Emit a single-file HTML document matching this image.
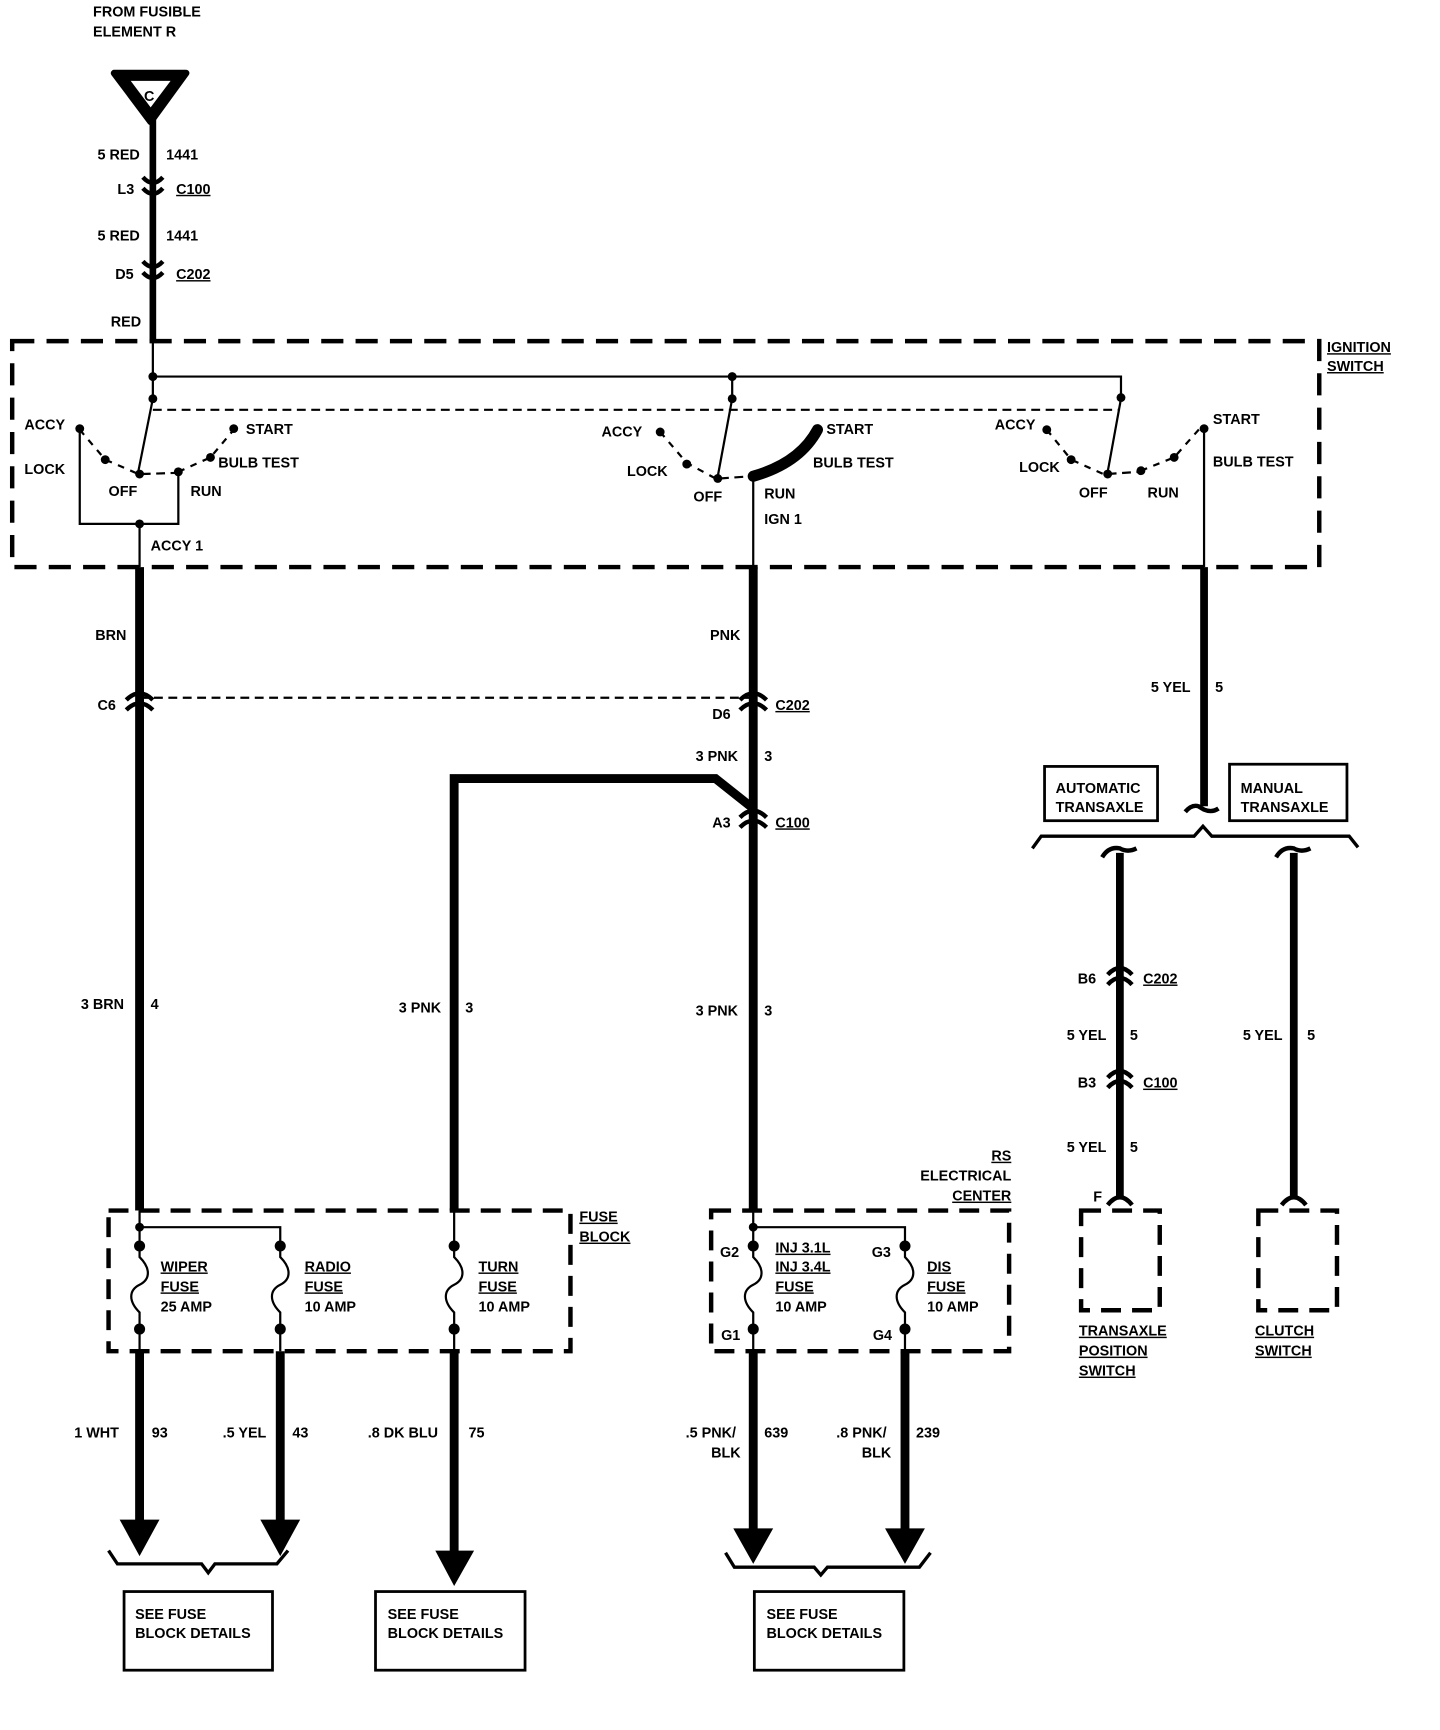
<!DOCTYPE html>
<html><head><meta charset="utf-8"><style>
html,body{margin:0;padding:0;background:#fff;}
svg{display:block;}
text{font-family:"Liberation Sans",sans-serif;font-weight:bold;font-size:13px;fill:#000;}
</style></head><body>
<svg width="1440" height="1730" viewBox="0 0 1300 1562" preserveAspectRatio="none" xmlns="http://www.w3.org/2000/svg">
<g fill="none" stroke="#000" stroke-linecap="butt">
<path d="M103,66 L168,66 L136,110 Z" stroke-width="6" stroke-linejoin="round" fill="#000"/>
<path d="M118,73 L154,73 L136,97 Z" fill="#fff" stroke="none"/>
<line x1="138" y1="106" x2="138" y2="308" stroke-width="6"/>
<path d="M129,160 Q138,170 147,160 M129,170 Q138,180 147,170" stroke-width="4"/>
<path d="M129,236 Q138,246 147,236 M129,246 Q138,256 147,246" stroke-width="4"/>
<rect x="11" y="308" width="1180" height="204" stroke-width="4" stroke-dasharray="20,11"/>
<line x1="138" y1="308" x2="138" y2="360" stroke-width="2"/>
<polyline points="138,340 1012,340 1012,359" stroke-width="2"/>
<line x1="661" y1="340" x2="661" y2="360" stroke-width="2"/>
<line x1="138" y1="370" x2="1010" y2="370" stroke-width="2" stroke-dasharray="8,5"/>
<line x1="138" y1="360" x2="125" y2="425" stroke-width="2"/>
<path d="M72,388 L95,415 L125,428 M161,426 L190,413 L211,388" stroke-width="2" stroke-dasharray="6,6"/>
<line x1="128" y1="428" x2="158" y2="427" stroke-width="2" stroke-dasharray="8,5"/>
<polyline points="72,386 72,473 161,473 161,426" stroke-width="2"/>
<line x1="126" y1="473" x2="126" y2="512" stroke-width="2"/>
<line x1="661" y1="360" x2="648" y2="430" stroke-width="2"/>
<path d="M596,390 L620,418 L646,432" stroke-width="2" stroke-dasharray="6,6"/>
<line x1="650" y1="432" x2="678" y2="430" stroke-width="2" stroke-dasharray="8,5"/>
<path d="M680,430 Q722,418 738,388" stroke-width="10" stroke-linecap="round"/>
<line x1="680" y1="430" x2="680" y2="512" stroke-width="2"/>
<line x1="1012" y1="360" x2="1000" y2="426" stroke-width="2"/>
<path d="M945,388 L967,415 L996,428 M1030,425 L1060,413 L1083,387" stroke-width="2" stroke-dasharray="6,6"/>
<line x1="1000" y1="428" x2="1028" y2="426" stroke-width="2" stroke-dasharray="8,5"/>
<line x1="1087" y1="387" x2="1087" y2="512" stroke-width="2"/>
<line x1="126" y1="512" x2="126" y2="1093" stroke-width="8"/>
<line x1="680" y1="512" x2="680" y2="1093" stroke-width="8"/>
<polyline points="680,730 646,703 410,703 410,1093" stroke-width="8" stroke-linejoin="miter"/>
<line x1="1087" y1="512" x2="1087" y2="728" stroke-width="7"/>
<line x1="126" y1="630" x2="680" y2="630" stroke-width="2" stroke-dasharray="8,5"/>
<path d="M114,632 Q126,620 138,632 M114,641 Q126,629 138,641" stroke-width="4"/>
<path d="M668,632 Q680,620 692,632 M668,641 Q680,629 692,641" stroke-width="4"/>
<path d="M668,738 Q680,726 692,738 M668,747 Q680,735 692,747" stroke-width="4"/>
<path d="M1070,733 Q1076,726 1082,728 L1087,731 Q1094,734 1100,730" stroke-width="4"/>
<rect x="943" y="692" width="102" height="49" stroke-width="2.5"/>
<rect x="1110" y="690" width="106" height="51" stroke-width="2.5"/>
<polyline points="932,766 940,755 1078,755 1086,746 1094,755 1218,755 1226,765" stroke-width="3"/>
<line x1="1011" y1="770" x2="1011" y2="1080" stroke-width="7"/>
<line x1="1168" y1="770" x2="1168" y2="1080" stroke-width="7"/>
<path d="M995,774 Q1001,764 1011,766 Q1018,770 1026,766" stroke-width="4"/>
<path d="M1152,774 Q1158,764 1168,766 Q1175,770 1183,766" stroke-width="4"/>
<path d="M1000,880 Q1011,868 1022,880 M1000,889 Q1011,877 1022,889" stroke-width="4"/>
<path d="M1000,973 Q1011,961 1022,973 M1000,982 Q1011,970 1022,982" stroke-width="4"/>
<path d="M1000,1088 Q1011,1074 1022,1088" stroke-width="4"/>
<path d="M1157,1088 Q1168,1074 1179,1088" stroke-width="4"/>
<rect x="976" y="1093" width="71" height="90" stroke-width="4" stroke-dasharray="18,10"/>
<rect x="1136" y="1093" width="71" height="90" stroke-width="4" stroke-dasharray="18,10"/>
<rect x="98" y="1093" width="417" height="127" stroke-width="4" stroke-dasharray="18,10"/>
<polyline points="126,1108 253,1108 253,1125" stroke-width="2"/>
<line x1="410" y1="1093" x2="410" y2="1125" stroke-width="2"/>
<line x1="126" y1="1093" x2="126" y2="1125" stroke-width="2"/>
<g stroke-width="2">
<path d="M126,1125 L126,1135 C136,1145 136,1155 126,1160 C116,1165 116,1175 126,1185 L126,1220"/>
<path d="M253,1125 L253,1135 C263,1145 263,1155 253,1160 C243,1165 243,1175 253,1185 L253,1220"/>
<path d="M410,1125 L410,1135 C420,1145 420,1155 410,1160 C400,1165 400,1175 410,1185 L410,1220"/>
<path d="M680,1093 L680,1135 C690,1145 690,1155 680,1160 C670,1165 670,1175 680,1185 L680,1220"/>
<path d="M817,1125 L817,1135 C827,1145 827,1155 817,1160 C807,1165 807,1175 817,1185 L817,1220"/>
</g>
<rect x="642" y="1093" width="269" height="127" stroke-width="4" stroke-dasharray="18,10"/>
<polyline points="680,1108 817,1108 817,1125" stroke-width="2"/>
<line x1="126" y1="1220" x2="126" y2="1380" stroke-width="8"/>
<line x1="253" y1="1220" x2="253" y2="1380" stroke-width="8"/>
<line x1="410" y1="1220" x2="410" y2="1405" stroke-width="8"/>
<line x1="680" y1="1220" x2="680" y2="1382" stroke-width="8"/>
<line x1="817" y1="1220" x2="817" y2="1382" stroke-width="8"/>
<polyline points="98,1398 106,1410 182,1410 188,1418 194,1410 250,1410 260,1398" stroke-width="3" transform="translate(0,2)"/>
<polyline points="655,1402 663,1415 735,1415 741,1422 747,1415 830,1415 840,1402" stroke-width="3"/>
<rect x="112" y="1437" width="134" height="71" stroke-width="2.5"/>
<rect x="339" y="1437" width="135" height="71" stroke-width="2.5"/>
<rect x="681" y="1437" width="135" height="71" stroke-width="2.5"/>
</g>
<g fill="#000">
<polygon points="108,1372 144,1372 126,1405"/>
<polygon points="235,1372 271,1372 253,1405"/>
<polygon points="393,1400 428,1400 410,1432"/>
<polygon points="662,1380 698,1380 680,1412"/>
<polygon points="799,1380 835,1380 817,1412"/>
<circle cx="138" cy="340" r="4"/><circle cx="138" cy="360" r="4"/>
<circle cx="661" cy="340" r="4"/><circle cx="661" cy="360" r="4"/>
<circle cx="1012" cy="359" r="4"/>
<circle cx="72" cy="387" r="4"/><circle cx="95" cy="415" r="4"/><circle cx="126" cy="428" r="4"/><circle cx="161" cy="426" r="4"/><circle cx="190" cy="413" r="4"/><circle cx="211" cy="387" r="4"/><circle cx="126" cy="473" r="4"/>
<circle cx="596" cy="390" r="4"/><circle cx="620" cy="419" r="4"/><circle cx="648" cy="432" r="4"/>
<circle cx="945" cy="388" r="4"/><circle cx="967" cy="415" r="4"/><circle cx="1000" cy="428" r="4"/><circle cx="1030" cy="425" r="4"/><circle cx="1060" cy="413" r="4"/><circle cx="1087" cy="387" r="4"/>
<circle cx="126" cy="1108" r="4"/><circle cx="126" cy="1125" r="5"/><circle cx="126" cy="1200" r="5"/>
<circle cx="253" cy="1125" r="5"/><circle cx="253" cy="1200" r="5"/>
<circle cx="410" cy="1125" r="5"/><circle cx="410" cy="1200" r="5"/>
<circle cx="680" cy="1108" r="4"/><circle cx="680" cy="1125" r="5"/><circle cx="680" cy="1200" r="5"/>
<circle cx="817" cy="1125" r="5"/><circle cx="817" cy="1200" r="5"/>
</g>
<text x="84" y="15">FROM FUSIBLE</text>
<text x="84" y="33">ELEMENT R</text>
<text x="130" y="91" font-size="16">C</text>
<text x="88" y="144">5 RED</text><text x="150" y="144">1441</text>
<text x="106" y="175">L3</text><text x="159" y="175" text-decoration="underline">C100</text>
<text x="88" y="217">5 RED</text><text x="150" y="217">1441</text>
<text x="104" y="252">D5</text><text x="159" y="252" text-decoration="underline">C202</text>
<text x="100" y="295">RED</text>
<text x="1198" y="318" text-decoration="underline">IGNITION</text>
<text x="1198" y="335" text-decoration="underline">SWITCH</text>
<text x="22" y="388">ACCY</text><text x="22" y="428">LOCK</text><text x="98" y="448">OFF</text><text x="172" y="448">RUN</text>
<text x="222" y="392">START</text><text x="197" y="422">BULB TEST</text><text x="136" y="497">ACCY 1</text>
<text x="543" y="394">ACCY</text><text x="566" y="430">LOCK</text><text x="626" y="453">OFF</text><text x="690" y="450">RUN</text><text x="690" y="473">IGN 1</text>
<text x="746" y="392">START</text><text x="734" y="422">BULB TEST</text>
<text x="898" y="388">ACCY</text><text x="920" y="426">LOCK</text><text x="974" y="449">OFF</text><text x="1036" y="449">RUN</text>
<text x="1095" y="383">START</text><text x="1095" y="421">BULB TEST</text>
<text x="86" y="578">BRN</text><text x="641" y="578">PNK</text>
<text x="88" y="641">C6</text><text x="643" y="649">D6</text><text x="700" y="641" text-decoration="underline">C202</text>
<text x="628" y="687">3 PNK</text><text x="690" y="687">3</text>
<text x="643" y="747">A3</text><text x="700" y="747" text-decoration="underline">C100</text>
<text x="1039" y="625">5 YEL</text><text x="1097" y="625">5</text>
<text x="953" y="716">AUTOMATIC</text><text x="953" y="733">TRANSAXLE</text>
<text x="1120" y="716">MANUAL</text><text x="1120" y="733">TRANSAXLE</text>
<text x="73" y="911">3 BRN</text><text x="136" y="911">4</text>
<text x="360" y="914">3 PNK</text><text x="420" y="914">3</text>
<text x="628" y="917">3 PNK</text><text x="690" y="917">3</text>
<text x="973" y="888">B6</text><text x="1032" y="888" text-decoration="underline">C202</text>
<text x="963" y="939">5 YEL</text><text x="1020" y="939">5</text>
<text x="1122" y="939">5 YEL</text><text x="1180" y="939">5</text>
<text x="973" y="982">B3</text><text x="1032" y="982" text-decoration="underline">C100</text>
<text x="963" y="1040">5 YEL</text><text x="1020" y="1040">5</text>
<text x="987" y="1085">F</text>
<text x="913" y="1048" text-anchor="end" text-decoration="underline">RS</text>
<text x="913" y="1066" text-anchor="end">ELECTRICAL</text>
<text x="913" y="1084" text-anchor="end" text-decoration="underline">CENTER</text>
<text x="523" y="1103" text-decoration="underline">FUSE</text><text x="523" y="1121" text-decoration="underline">BLOCK</text>
<text x="145" y="1148" text-decoration="underline">WIPER</text><text x="145" y="1166" text-decoration="underline">FUSE</text><text x="145" y="1184">25 AMP</text>
<text x="275" y="1148" text-decoration="underline">RADIO</text><text x="275" y="1166" text-decoration="underline">FUSE</text><text x="275" y="1184">10 AMP</text>
<text x="432" y="1148" text-decoration="underline">TURN</text><text x="432" y="1166" text-decoration="underline">FUSE</text><text x="432" y="1184">10 AMP</text>
<text x="650" y="1135">G2</text><text x="651" y="1210">G1</text><text x="787" y="1135">G3</text><text x="788" y="1210">G4</text>
<text x="700" y="1131" text-decoration="underline">INJ 3.1L</text><text x="700" y="1148" text-decoration="underline">INJ 3.4L</text><text x="700" y="1166" text-decoration="underline">FUSE</text><text x="700" y="1184">10 AMP</text>
<text x="837" y="1148" text-decoration="underline">DIS</text><text x="837" y="1166" text-decoration="underline">FUSE</text><text x="837" y="1184">10 AMP</text>
<text x="974" y="1206" text-decoration="underline">TRANSAXLE</text><text x="974" y="1224" text-decoration="underline">POSITION</text><text x="974" y="1242" text-decoration="underline">SWITCH</text>
<text x="1133" y="1206" text-decoration="underline">CLUTCH</text><text x="1133" y="1224" text-decoration="underline">SWITCH</text>
<text x="67" y="1298">1 WHT</text><text x="137" y="1298">93</text>
<text x="201" y="1298">.5 YEL</text><text x="264" y="1298">43</text>
<text x="332" y="1298">.8 DK BLU</text><text x="423" y="1298">75</text>
<text x="619" y="1298">.5 PNK/</text><text x="642" y="1316">BLK</text><text x="690" y="1298">639</text>
<text x="755" y="1298">.8 PNK/</text><text x="778" y="1316">BLK</text><text x="827" y="1298">239</text>
<text x="122" y="1462">SEE FUSE</text><text x="122" y="1479">BLOCK DETAILS</text>
<text x="350" y="1462">SEE FUSE</text><text x="350" y="1479">BLOCK DETAILS</text>
<text x="692" y="1462">SEE FUSE</text><text x="692" y="1479">BLOCK DETAILS</text>
</svg>
</body></html>
